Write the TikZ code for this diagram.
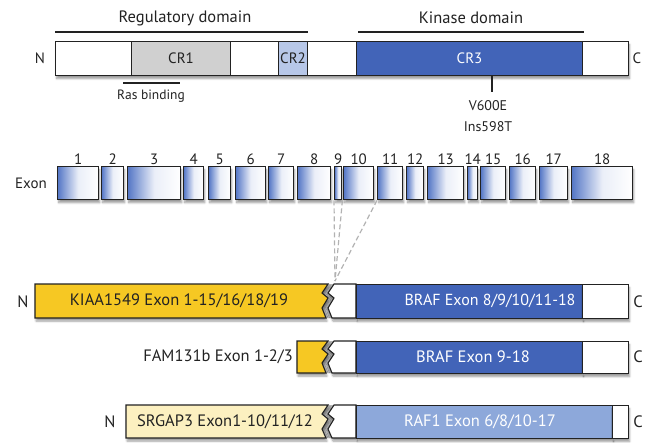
\documentclass[tikz,border=0pt]{standalone}
\usepackage{fontspec}
\setmainfont{PT Sans}
\usetikzlibrary{shadows.blur}
\definecolor{dblue}{HTML}{4264B8}
\definecolor{crtwo}{HTML}{B7C7E8}
\definecolor{crone}{HTML}{D0D0D0}
\definecolor{yel}{HTML}{F6C823}
\definecolor{lyel}{HTML}{FCF0C0}
\definecolor{lblue}{HTML}{8DA8DA}
\definecolor{exb}{HTML}{5577C6}
\definecolor{ink}{HTML}{222222}
\begin{document}
\begin{tikzpicture}[x=1pt,y=-1pt,font=\fontsize{15}{17}\selectfont,text=ink,
  box/.style={draw=ink,line width=1.1pt,inner sep=0pt,anchor=north west},
  shd/.style={blur shadow={shadow xshift=1pt,shadow yshift=-3pt,shadow opacity=40,shadow blur steps=6}},
  exon/.style={draw=ink,line width=1.4pt,inner sep=0pt,anchor=north west,
    left color=exb,right color=white,middle color=exb!12,shd},
  lbl/.style={inner sep=1pt,font=\fontsize{15}{17}\selectfont},
  big/.style={font=\fontsize{16.5}{19}\selectfont},
  mid/.style={font=\fontsize{16}{19}\selectfont},
  wtxt/.style={text=white},
  domline/.style={line width=1.3pt,ink},
  dash2/.style={draw=gray!60,dashed,dash pattern=on 5pt off 3pt,line width=1.2pt},
  gap/.style={fill=gray!60,draw=none}]
\useasboundingbox (0,0) rectangle (652,443);

% ---- protein bar
\node[box,fill=white,shd,minimum width=573,minimum height=34] (bar) at (55,41) {};
\node[box,fill=crone,minimum width=99,minimum height=34] (cr1) at (131,41) {CR1};
\node[box,fill=crtwo,minimum width=29,minimum height=34] (cr2) at (278,41) {CR2};
\node[box,fill=dblue,minimum width=226,minimum height=34,wtxt] (cr3) at (356,41) {CR3};
\node (nt) at (40,58) {N};
\node (ct) at (637,58) {C};

% domains
\coordinate (rl) at (55,32); \coordinate (rr) at (308,32);
\draw[domline] (rl) -- (rr);
\node[big] (reg) at (185,18) {Regulatory domain};
\coordinate (kl) at (358,32); \coordinate (kr) at (584,32);
\draw[domline] (kl) -- (kr);
\node[big] (kin) at (471,18) {Kinase domain};

% ras binding
\coordinate (ral) at (123,83); \coordinate (rar) at (180,83);
\draw[line width=1.1pt,ink] (ral) -- (rar);
\node[font=\fontsize{13.5}{15}\selectfont] (ras) at (151,96) {Ras binding};

% mutation
\node[align=center,font=\fontsize{14}{21}\selectfont,anchor=north,inner sep=0pt] (mut) at (488,100) {V600E\\Ins598T};
\draw[line width=1.1pt,ink] (cr3.south -| 492,0) -- (492,92);

% ---- exons
\node (exlab) at (31,183) {Exon};
\foreach \a/\b [count=\i] in {57/98,101/123,127/180,183/203,208/230,235/265,268/293,297/330,334/341,343/373,377/402,406/423,427/463,467/477,480/505,509/535,539/567,571/632}
  \node[exon,minimum width=\b-\a,minimum height=33,label={[lbl,label distance=0pt]above:\i}] (e\i) at (\a,166) {};

% ---- fusion 1 : KIAA1549-BRAF
\fill[gap] (328,284)--(334,284)--(328,293)--(334,298)--(328,308)--(332,318)--(326,318)--(322,308)--(328,298)--(322,293)--cycle;
\draw[fill=yel,line width=1.1pt,draw=ink,shd] (35,284)--(328,284)--(322,293)--(328,298)--(322,308)--(326,318)--(35,318)--cycle;
\draw[fill=white,line width=1.1pt,draw=ink,shd] (334,284)--(356,284)--(356,318)--(332,318)--(328,308)--(334,298)--(328,293)--cycle;
\node[box,fill=dblue,shd,minimum width=226,minimum height=34] (b1) at (356,284) {};
\node[box,fill=white,shd,minimum width=46,minimum height=34] (w1) at (582,284) {};
\node[big] (k1) at (179,301) {KIAA1549 Exon 1-15/16/18/19};
\node[mid,wtxt] (bt1) at (490,301) {BRAF Exon 8/9/10/11-18};
\node[big] (n1) at (23,302) {N};
\node[big] (c1) at (638,302) {C};
\coordinate (j1) at (335,281);
\draw[dash2] (e9.south west) -- (j1);
\draw[dash2] (e9.south east) -- (j1);
\draw[dash2] (e11.south west) -- (j1);

% ---- fusion 2 : FAM131b-BRAF
\fill[gap] (328,341)--(334,341)--(328,349)--(334,354)--(328,363)--(332,373)--(326,373)--(322,363)--(328,354)--(322,349)--cycle;
\draw[fill=yel,line width=1.1pt,draw=ink,shd] (297,341)--(328,341)--(322,349)--(328,354)--(322,363)--(326,373)--(297,373)--cycle;
\draw[fill=white,line width=1.1pt,draw=ink,shd] (334,341)--(356,341)--(356,373)--(332,373)--(328,363)--(334,354)--(328,349)--cycle;
\node[box,fill=dblue,shd,minimum width=226,minimum height=32] (b2) at (356,341) {};
\node[box,fill=white,shd,minimum width=46,minimum height=32] (w2) at (582,341) {};
\node[big,anchor=east,inner sep=1pt] (f2) at (294,357) {FAM131b Exon 1-2/3};
\node[big,wtxt] (bt2) at (473,357) {BRAF Exon 9-18};
\node[big] (c2) at (638,357) {C};

% ---- fusion 3 : SRGAP3-RAF1
\fill[gap] (328,405)--(334,405)--(328,414)--(334,419)--(328,429)--(332,438)--(326,438)--(322,429)--(328,419)--(322,414)--cycle;
\draw[fill=lyel,line width=1.1pt,draw=ink,shd] (126,405)--(328,405)--(322,414)--(328,419)--(322,429)--(326,438)--(126,438)--cycle;
\draw[fill=white,line width=1.1pt,draw=ink,shd] (334,405)--(356,405)--(356,438)--(332,438)--(328,429)--(334,419)--(328,414)--cycle;
\node[box,fill=lblue,shd,minimum width=256,minimum height=33] (b3) at (356,405) {};
\node[box,fill=white,shd,minimum width=16,minimum height=33] (w3) at (612,405) {};
\node[big] (s3) at (225,422) {SRGAP3 Exon1-10/11/12};
\node[big,wtxt] (rt3) at (480,422) {RAF1 Exon 6/8/10-17};
\node[big] (n3) at (110,422) {N};
\node[big] (c3) at (638,422) {C};
\end{tikzpicture}
\end{document}
